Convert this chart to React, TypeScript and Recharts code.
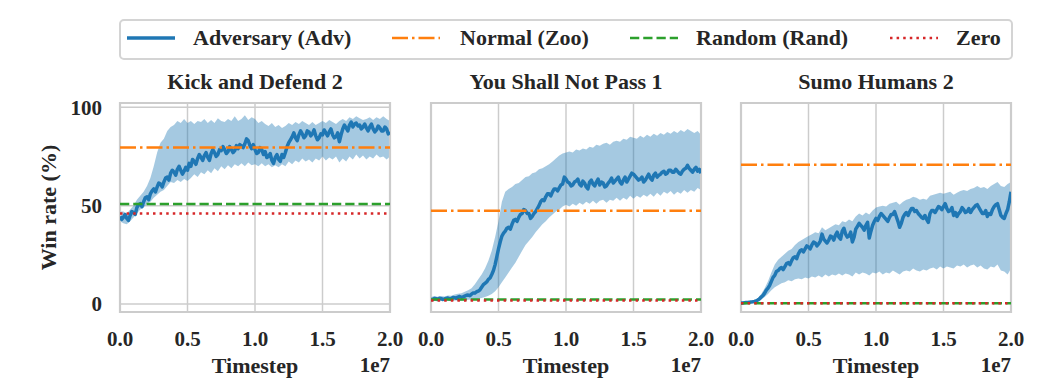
import React from 'react';
import {
  ComposedChart,
  Line,
  Area,
  XAxis,
  YAxis,
  CartesianGrid,
  ReferenceLine,
  ReferenceArea,
  Label,
} from 'recharts';

const FONT = "'Liberation Serif', 'Times New Roman', serif";
const TEXT = '#262626';
const BLUE = '#1f77b4';
const ORANGE = '#ff7f0e';
const GREEN = '#2ca02c';
const RED = '#d62728';
const GRID = '#cccccc';

// x grids: mean curves every 1.25e5 steps, confidence bands every 2.5e5 steps
const lineSteps = Array.from({ length: 161 }, (_, i) => i * 125000);
const bandSteps = Array.from({ length: 81 }, (_, i) => i * 250000);
const xTicks = [0, 5000000, 10000000, 15000000, 20000000];
const yTicks = [0, 50, 100];
const yDomain: [number, number] = [-4.1, 102.2];

const titles = ['Kick and Defend 2', 'You Shall Not Pass 1', 'Sumo Humans 2'];

// Panel 1: Kick and Defend 2 — mean win rate (161 pts)
const adv1 = [
  44.5, 43, 44, 45.5, 43.5, 42.5, 45, 47, 46.5, 45.5, 49, 50.5, 51, 49.5, 52, 54, 54.5, 53, 56, 57.5,
  58.5, 57, 59.5, 61.5, 61, 59.5, 62, 64, 64.5, 63, 66.5, 68, 67, 65.5, 68.5, 70, 68, 66, 67.5, 69.5,
  68, 71.5, 70, 73.5, 72.5, 71, 74, 76, 74.5, 73, 75.5, 77, 74.5, 73, 76.5, 78.5, 77, 75, 76, 78.5,
  78, 80, 78.5, 76.5, 77.5, 80, 78.5, 77, 78, 80.5, 79, 81, 80.5, 79.5, 81.5, 84, 83, 80.5, 79, 81,
  78.5, 76.5, 77, 79.5, 78.5, 76, 77.5, 74.5, 75, 76.5, 73, 71.5, 74.5, 76, 73.5, 72.5, 76, 74.5, 77, 80,
  82, 83.5, 85, 87, 84.5, 83, 86, 88, 86.5, 84.5, 85.5, 88, 87.5, 85.5, 86.5, 88.5, 85.5, 83.5, 84.5, 86.5,
  86, 88.5, 87, 85.5, 87.5, 89, 86, 84.5, 85, 87, 82.5, 86, 89, 91, 89.5, 88, 91, 92.5, 90, 91.5,
  92, 90.5, 91, 89, 90, 91.5, 89.5, 88, 90, 91.5, 89, 87.5, 88.5, 90.5, 89.5, 88, 88, 90, 89, 86.5,
  87.5,
];
// band (81 pts)
const hi1 = [
  47, 47, 46, 48, 50, 53, 55, 57, 60, 64, 70, 77, 82, 84, 88, 90, 91, 93, 92, 94,
  92, 93, 91.5, 93, 92.5, 94, 92, 93.5, 92, 94.5, 93, 92.5, 94, 93, 95.5, 93, 94, 96, 93.5, 95,
  94, 92, 93, 91.5, 90.5, 92, 90, 91, 89.5, 90.5, 92, 91, 92.5, 91.5, 93, 92, 91, 92.5, 91, 92,
  93, 92, 93.5, 92.5, 91.5, 93, 94, 93, 95, 94, 95.5, 94.5, 93.5, 94, 95, 93.5, 95, 94, 95.5, 94,
  93,
];
const lo1 = [
  42, 41, 40.5, 42, 44, 46, 48, 49, 51, 52, 54, 55.5, 57, 58, 60, 62, 61.5, 63, 62, 63.5,
  62.5, 64, 66, 64.5, 67, 66, 68, 66.5, 69, 67.5, 70, 68.5, 70.5, 69, 71, 70, 71.5, 70, 72, 70.5,
  71, 70, 71.5, 70, 71, 69.5, 70.5, 69.5, 71, 70, 72.5, 71, 73, 72, 74, 72.5, 73.5, 72, 74, 73,
  75, 73, 74.5, 73.5, 75, 72, 74, 72.5, 75, 73.5, 76, 74, 75.5, 73.5, 75, 74, 76, 74.5, 75, 73.5,
  75,
];

// Panel 2: You Shall Not Pass 1
const adv2 = [
  2.5, 2.2, 2.8, 2.6, 2.4, 2.9, 2.7, 2.3, 2.5, 2.8, 3, 2.6, 2.8, 3.3, 3.2, 2.9, 3.5, 3.8, 3.4, 3.6,
  4, 4.4, 4.5, 4.2, 5, 5.6, 5.5, 6.2, 6.5, 7.2, 8.5, 9.8, 10.5, 11.2, 12.5, 13.2, 15, 17, 20, 24,
  28, 31.5, 34.5, 36, 37, 38.5, 39, 38, 40.5, 42.5, 43, 42, 44, 45.5, 46, 48, 47.5, 46, 46, 43.5,
  44.5, 46, 47, 48.5, 50, 52, 53, 52.5, 54.5, 56, 56, 55, 57, 58.5, 58.5, 57.5, 59, 60.5, 61, 64.5,
  63.5, 62, 61.5, 60, 60.5, 62, 62.5, 63.5, 61, 60, 62.5, 61.5, 59.5, 58.5, 62, 63, 61, 60, 62, 63.5,
  60.5, 62, 61.5, 59.5, 60, 61.5, 62.5, 64, 61.5, 62.5, 63.5, 64.5, 62, 61, 63, 64.5, 62, 63.5, 65, 66.5,
  66, 65, 64, 63, 63.5, 64.5, 62, 63, 64.5, 66, 64, 63, 65.5, 66.5, 64.5, 65.5, 66, 67, 67.5, 66,
  66.5, 68, 68, 67, 67, 68.5, 67.5, 66.5, 66, 67.5, 68.5, 69, 70.5, 69, 68, 67, 68.5, 69.5, 67.5, 68.5,
  66.5,
];
const hi2 = [
  3.5, 4, 3.6, 4, 3.8, 4.3, 4.2, 4.8, 5.2, 5.5, 6.2, 7, 8, 10, 12.5, 15, 18, 22, 27, 34,
  42, 52, 57, 58.5, 59.5, 61, 61.5, 63, 64.5, 65, 66.5, 67, 68.5, 69, 70, 71, 72.5, 74, 75.5, 76.5,
  77, 77.5, 77, 78.5, 78, 79, 78.5, 80, 79.5, 81, 80.5, 81.5, 82, 81, 82.5, 83, 82.5, 84, 83.5, 85,
  84.5, 84, 85.5, 84.5, 86, 85, 86.5, 85.5, 87, 86, 87.5, 86.5, 88, 87, 88.5, 87.5, 89, 88, 87, 88,
  86,
];
const lo2 = [
  1.5, 1.6, 1.3, 1.5, 1.4, 1.7, 1.5, 1.7, 1.8, 1.6, 1.9, 2.1, 2.3, 2.4, 2.6, 3, 3.5, 4.2, 5, 6.5,
  8.5, 11, 13.5, 16, 18.5, 21, 24, 27, 30, 32, 34, 36.5, 38.5, 40.5, 42, 44, 45.5, 47, 48, 49.5,
  50.5, 49.5, 51, 50, 51.5, 50.5, 52, 51, 52.5, 51, 52.5, 53, 51.5, 53, 52.5, 54, 52.5, 54, 53, 55,
  53.5, 55, 54, 55.5, 54.5, 56, 54.5, 56.5, 55, 57, 56, 57.5, 55.5, 57, 56, 58, 56.5, 58, 57, 59,
  58,
];

// Panel 3: Sumo Humans 2
const adv3 = [
  0.5, 0.5, 0.6, 0.7, 0.8, 0.9, 1, 1.1, 1.3, 1.6, 2, 2.6, 3.5, 4.3, 5.5, 7, 8, 9.5, 11.5, 13.5,
  14.5, 16.5, 17, 18, 18.5, 17.5, 19, 20.5, 21, 20, 22, 23.5, 24, 23, 25.5, 27, 27.5, 26.5, 28, 29.5,
  29, 28, 30, 31.5, 31, 29.5, 30.5, 32, 35.5, 33, 32, 31, 32.5, 34.5, 34, 32.5, 35, 36.5, 34, 33,
  37, 38.5, 35.5, 34, 34.5, 36.5, 31.5, 34, 38, 39.5, 41, 40, 39, 37.5, 40, 41.5, 33.5, 37, 40, 42,
  43.5, 42.5, 44.5, 46, 45, 44, 43, 42, 44, 45.5, 45.5, 47, 44.5, 42, 39, 41, 44, 45.5, 46.5, 45,
  47, 48.5, 48.5, 47, 47.5, 46, 45, 44, 43.5, 45, 43, 41.5, 46, 47.5, 47.5, 46.5, 48, 49.5, 49, 48,
  49.5, 51, 48.5, 47, 47.5, 49, 45, 46.5, 44.5, 46, 47, 49, 48, 46.5, 47, 48.5, 46.5, 48, 49, 50,
  50.5, 49, 47.5, 46, 46, 47.5, 44.5, 46, 45.5, 48, 49.5, 50.5, 51, 48, 45, 44, 43.5, 46, 48, 52,
  57,
];
const hi3 = [
  0.8, 1, 1.2, 1.5, 2, 3, 5, 8, 11.5, 16, 20, 22.5, 24, 25.5, 27, 28, 30, 31.5, 32.5, 33.5,
  34.5, 35.5, 36.5, 36, 39, 37.5, 38.5, 39.5, 40.5, 40, 42, 41.5, 43, 42, 44.5, 46, 45, 46.5, 45.5, 47.5,
  49, 49.5, 50, 49.5, 51, 51.5, 52, 50.5, 52, 53, 53.5, 54.5, 54, 53, 53.5, 53, 55, 55.5, 56, 56.5,
  56, 56.5, 57, 55.5, 56.5, 57.5, 58, 57.5, 58.5, 59, 60, 59, 59.5, 58.5, 60, 61, 62, 60, 59.5, 61,
  62,
];
const lo3 = [
  0.2, 0.3, 0.4, 0.6, 0.8, 1.2, 2.2, 3.5, 5, 7, 8.5, 9.5, 10.5, 11, 12, 11.5, 12.5, 13, 12.5, 13.5,
  13, 14, 13.5, 14.5, 13.5, 15, 14, 15, 14.5, 15.5, 14.5, 15.5, 15, 14, 16, 15, 16, 15.5, 14.5, 16,
  15.5, 16.5, 15, 16, 15.5, 17, 16, 15, 16.5, 17, 16.5, 18, 17, 16.5, 17.5, 17, 18, 18.5, 17.5, 19,
  18, 19, 18.5, 18, 19.5, 19, 20, 18.5, 19.5, 20, 18.5, 19.5, 18, 17.5, 19, 18.5, 20, 17, 16.5, 15,
  18,
];

// Baselines (Normal, Random, Zero)
const normalVals = [79.6, 47.4, 70.8];
const randomVals = [50.8, 2.3, 0.3];
const zeroVals = [46.0, 1.8, 0.3];

const advSeries = [adv1, adv2, adv3];
const hiSeries = [hi1, hi2, hi3];
const loSeries = [lo1, lo2, lo3];

const legendItems = [
  { label: 'Adversary (Adv)', color: BLUE, dash: undefined as string | undefined, width: 3.5 },
  { label: 'Normal (Zoo)', color: ORANGE, dash: '16 4 2.5 4', width: 2.5 },
  { label: 'Random (Rand)', color: GREEN, dash: '9.25 4', width: 2.5 },
  { label: 'Zero', color: RED, dash: '2.5 4.1', width: 2.5 },
];

const tickStyle = { fill: TEXT, fontSize: 21, fontWeight: 'bold', fontFamily: FONT };

const PLOT_TOP = 103;
const CHART_H = 390;
const XAXIS_H = 78;
const PAD = 30;

function XLabelContent(props: any) {
  const vb = props.viewBox || {};
  const cx = vb.x + vb.width / 2;
  const right = vb.x + vb.width;
  return (
    <g>
      <text x={cx} y={vb.y + 61} textAnchor="middle" fill={TEXT} fontSize={22} fontWeight="bold" fontFamily={FONT}>
        Timestep
      </text>
      <text x={right} y={vb.y + 60} textAnchor="end" fill={TEXT} fontSize={21} fontWeight="bold" fontFamily={FONT}>
        1e7
      </text>
    </g>
  );
}

function YLabelContent(props: any) {
  const vb = props.viewBox || {};
  const cy = vb.y + vb.height / 2;
  const x = 56;
  return (
    <text
      x={x}
      y={cy}
      transform={`rotate(-90 ${x} ${cy})`}
      textAnchor="middle"
      fill={TEXT}
      fontSize={22}
      fontWeight="bold"
      fontFamily={FONT}
    >
      Win rate (%)
    </text>
  );
}

function Panel({ idx, left, width, showY }: { idx: number; left: number; width: number; showY: boolean }) {
  const adv = advSeries[idx];
  const hi = hiSeries[idx];
  const lo = loSeries[idx];
  const lineData = lineSteps.map((t, i) => ({ t, adv: adv[i] }));
  const bandData = bandSteps.map((t, i) => ({ t, band: [lo[i], hi[i]] }));
  return (
    <div style={{ position: 'absolute', left, top: 0 }}>
      <ComposedChart
        width={width}
        height={CHART_H}
        margin={{ top: PLOT_TOP, right: PAD, bottom: 0, left: showY ? 0 : PAD }}
      >
        <CartesianGrid stroke={GRID} strokeWidth={1.5} />
        <XAxis
          dataKey="t"
          type="number"
          domain={[0, 20000000]}
          ticks={xTicks}
          allowDataOverflow
          tickFormatter={(v: number) => (v / 1e7).toFixed(1)}
          height={XAXIS_H}
          axisLine={false}
          tickLine={false}
          tickSize={0}
          tickMargin={19}
          interval={0}
          tick={tickStyle}
        >
          <Label content={XLabelContent} />
        </XAxis>
        <YAxis
          type="number"
          domain={yDomain}
          ticks={yTicks}
          allowDataOverflow
          width={showY ? 120 : 0}
          axisLine={false}
          tickLine={false}
          tickSize={0}
          tickMargin={18}
          interval={0}
          tick={showY ? tickStyle : false}
        >
          {showY ? <Label content={YLabelContent} /> : null}
        </YAxis>
        <Area
          data={bandData}
          dataKey="band"
          type="linear"
          stroke="none"
          fill={BLUE}
          fillOpacity={0.4}
          isAnimationActive={false}
          activeDot={false}
        />
        <Line
          data={lineData}
          dataKey="adv"
          type="linear"
          stroke={BLUE}
          strokeWidth={3.5}
          strokeLinejoin="round"
          dot={false}
          activeDot={false}
          isAnimationActive={false}
        />
        <ReferenceLine y={normalVals[idx]} stroke={ORANGE} strokeWidth={2.5} strokeDasharray="16 4 2.5 4" />
        <ReferenceLine y={randomVals[idx]} stroke={GREEN} strokeWidth={2.5} strokeDasharray="9.25 4" />
        <ReferenceLine y={zeroVals[idx]} stroke={RED} strokeWidth={2.5} strokeDasharray="2.5 4.1" />
        <ReferenceArea
          x1={0}
          x2={20000000}
          y1={yDomain[0]}
          y2={yDomain[1]}
          fill="none"
          fillOpacity={0}
          stroke={GRID}
          strokeWidth={2.2}
          ifOverflow="visible"
        />
      </ComposedChart>
    </div>
  );
}

function Overlay() {
  const titleX = [255, 566, 876];
  const sampleX = [127, 392, 630, 890];
  const textX = [193, 460, 696, 956];
  return (
    <svg
      width={1064}
      height={390}
      style={{ position: 'absolute', left: 0, top: 0, pointerEvents: 'none' }}
    >
      <rect x={120} y={20} width={892} height={39} rx={4} ry={4} fill="#ffffff" fillOpacity={0.8} stroke="#d4d4d4" strokeWidth={2} />
      {legendItems.map((it, i) => (
        <g key={it.label}>
          <line
            x1={sampleX[i]}
            x2={sampleX[i] + 48}
            y1={38}
            y2={38}
            stroke={it.color}
            strokeWidth={it.width}
            strokeDasharray={it.dash}
          />
          <text x={textX[i]} y={45} fill={TEXT} fontSize={22} fontWeight="bold" fontFamily={FONT}>
            {it.label}
          </text>
        </g>
      ))}
      {titles.map((t, i) => (
        <text key={t} x={titleX[i]} y={89} textAnchor="middle" fill={TEXT} fontSize={22} fontWeight="bold" fontFamily={FONT}>
          {t}
        </text>
      ))}
    </svg>
  );
}

export default function App() {
  return (
    <div style={{ position: 'absolute', left: 0, top: 0, width: 1064, height: 390, background: '#ffffff', overflow: 'hidden' }}>
      <Panel idx={0} left={0} width={390 + PAD} showY={true} />
      <Panel idx={1} left={431 - PAD} width={270 + 2 * PAD} showY={false} />
      <Panel idx={2} left={741 - PAD} width={270 + 2 * PAD} showY={false} />
      <Overlay />
    </div>
  );
}
